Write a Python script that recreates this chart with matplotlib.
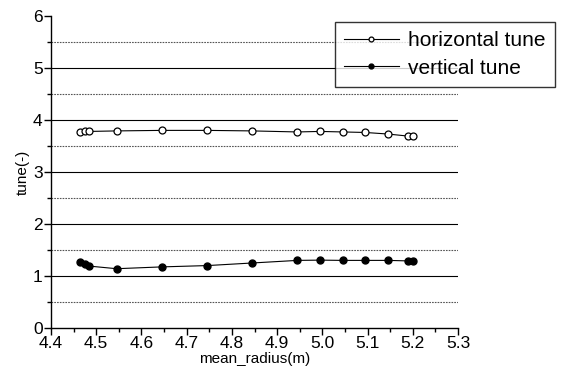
import matplotlib
matplotlib.use("Agg")
import matplotlib.pyplot as plt
from matplotlib.ticker import MultipleLocator

plt.rcParams['font.family'] = ['Liberation Sans', 'DejaVu Sans']

# data
mean_radius = [4.465, 4.475, 4.485, 4.545, 4.645, 4.745, 4.845,
               4.945, 4.995, 5.045, 5.095, 5.145, 5.19, 5.20]
horizontal_tune = [3.77, 3.78, 3.78, 3.79, 3.80, 3.80, 3.79,
                   3.77, 3.78, 3.77, 3.76, 3.73, 3.69, 3.69]
vertical_tune = [1.27, 1.23, 1.19, 1.14, 1.175, 1.20, 1.25,
                 1.30, 1.305, 1.30, 1.30, 1.30, 1.29, 1.29]

solid_grid = [1, 2, 3, 4, 5]
dotted_grid = [0.5, 1.5, 2.5, 3.5, 4.5, 5.5]

fig = plt.figure(figsize=(5.65, 3.9), dpi=100)
ax = fig.add_axes([0.0903, 0.159, 0.7203, 0.800])

# horizontal grid lines
for g in solid_grid:
    ax.axhline(g, color="black", linewidth=0.8, zorder=1)
for g in dotted_grid:
    ax.axhline(g, color="#555555", linewidth=0.8, linestyle=(0, (1.5, 1.0)), zorder=1)

ax.plot(mean_radius, horizontal_tune, color="black", linewidth=0.8,
        marker="o", markersize=5, markerfacecolor="white",
        markeredgecolor="black", markeredgewidth=0.9,
        label="horizontal tune", zorder=3)
ax.plot(mean_radius, vertical_tune, color="black", linewidth=0.8,
        marker="o", markersize=5, markerfacecolor="black",
        markeredgecolor="black", label="vertical tune", zorder=3)

ax.set_xlim(4.4, 5.3)
ax.set_ylim(0, 6)
ax.xaxis.set_minor_locator(MultipleLocator(0.05))
ax.yaxis.set_major_locator(MultipleLocator(1))
ax.yaxis.set_minor_locator(MultipleLocator(0.5))
ax.set_xticks([4.4, 4.5, 4.6, 4.7, 4.8, 4.9, 5.0, 5.1, 5.2, 5.3])
ax.set_xticklabels(["4.4", "4.5", "4.6", "4.7", "4.8", "4.9", "5.0", "5.1", "5.2", "5.3"])

ax.spines["top"].set_visible(False)
ax.spines["right"].set_visible(False)
ax.spines["left"].set_linewidth(1.0)
ax.spines["bottom"].set_linewidth(1.0)
ax.tick_params(which="major", direction="out", length=5, width=1.0,
               labelsize=12.5, pad=1)
ax.tick_params(axis="x", which="major", pad=0.5)
ax.tick_params(which="minor", direction="out", length=3, width=1.0)

ax.set_xlabel("mean_radius(m)", fontsize=11, labelpad=1)
ax.set_ylabel("tune(-)", fontsize=11, labelpad=2)

leg = fig.legend(handles=ax.get_lines()[-2:], loc="upper left",
                 bbox_to_anchor=(335 / 565, 1 - 22 / 390),
                 fontsize=15, frameon=True, fancybox=False, shadow=False,
                 handlelength=2.6, handletextpad=0.45, borderpad=0.45,
                 labelspacing=0.4, borderaxespad=0, markerscale=0.7)
leg.get_frame().set_edgecolor("black")
leg.get_frame().set_linewidth(1.0)

fig.savefig("out.png", dpi=100)
